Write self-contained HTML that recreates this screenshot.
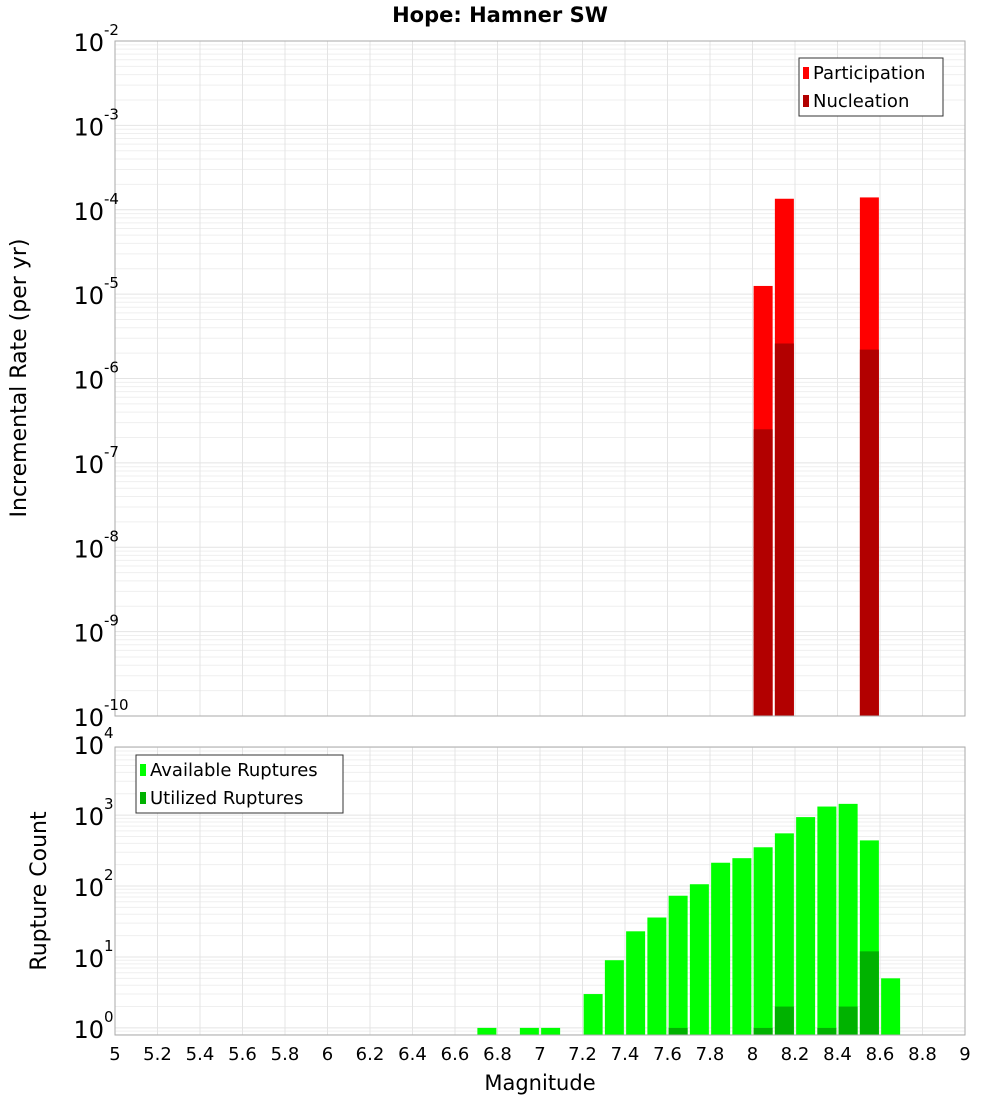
<!DOCTYPE html>
<html><head><meta charset="utf-8"><style>
body{margin:0;background:#fff;font-family:"DejaVu Sans","Liberation Sans",sans-serif}
svg text{font-family:"DejaVu Sans","Liberation Sans",sans-serif}
</style></head><body>
<svg id="c" width="1000" height="1100" xmlns="http://www.w3.org/2000/svg">
<text x="500" y="22" text-anchor="middle" font-size="21" font-weight="bold">Hope: Hamner SW</text>
<text transform="translate(26,378) rotate(-90)" text-anchor="middle" font-size="22">Incremental Rate (per yr)</text>
<text transform="translate(46,891) rotate(-90)" text-anchor="middle" font-size="22">Rupture Count</text>
<text x="540" y="1090" text-anchor="middle" font-size="21">Magnitude</text>
<g id="g"></g>
</svg>
<script>
const topMags=[8.05,8.15,8.55];
const participation=[1.25e-5,1.35e-4,1.4e-4];
const nucleation=[2.5e-7,2.6e-6,2.2e-6];
const botMags=[6.75,6.95,7.05,7.25,7.35,7.45,7.55,7.65,7.75,7.85,7.95,8.05,8.15,8.25,8.35,8.45,8.55,8.65];
const available=[1,1,1,3,9,23,36,73,106,213,247,352,553,937,1320,1440,440,5];
const utilized=[0,0,0,0,0,0,0,1,0,0,0,1,2,0,1,2,12,0];
const xTicks=["5","5.2","5.4","5.6","5.8","6","6.2","6.4","6.6","6.8","7","7.2","7.4","7.6","7.8","8","8.2","8.4","8.6","8.8","9"];
const topExp=[-2,-3,-4,-5,-6,-7,-8,-9,-10];
const botExp=[0,1,2,3,4];

const NS="http://www.w3.org/2000/svg";
const g=document.getElementById('g');
function el(t,a,p){const e=document.createElementNS(NS,t);for(const k in a)e.setAttribute(k,a[k]);(p||g).appendChild(e);return e;}
const X0=115,X1=965;
const x=m=>X0+(m-5)/4*(X1-X0);
const T0=41,T1=716;
const yT=v=>T0+(-2-Math.log10(v))/8*(T1-T0);
const B0=747,B1=1035,Bmax=3.96,Bmin=-0.1;
const yB=v=>B0+(Bmax-Math.log10(v))/(Bmax-Bmin)*(B1-B0);

function grid(y0,y1,fy,lo,hi){
  for(let d=lo;d<=hi;d++)for(let k=1;k<10;k++){const v=k*Math.pow(10,d);const yy=fy(v);if(yy<y0-0.5||yy>y1+0.5)continue;
    const l=el('line',{x1:X0,x2:X1,y1:yy,y2:yy,stroke:k==1?'#e4e4e4':'#efefef','stroke-width':1});
    }
  xTicks.forEach(t=>{const xx=x(+t);const l=el('line',{x1:xx,x2:xx,y1:y0,y2:y1,stroke:'#e4e4e4'});
    });
}
grid(T0,T1,yT,-10,-3);
grid(B0,B1,yB,-1,3);

topMags.forEach((m,i)=>{
  const r=el('rect',{x:x(m)-9.5,y:yT(participation[i]),width:19,height:T1-yT(participation[i]),fill:'#ff0000'});
  
  const n=el('rect',{x:x(m)-9.5,y:yT(nucleation[i]),width:19,height:T1-yT(nucleation[i]),fill:'#b20000'});
  
});
botMags.forEach((m,i)=>{
  const r=el('rect',{x:x(m)-9.5,y:yB(available[i]),width:19,height:B1-yB(available[i]),fill:'#00ff00'});
  
  if(utilized[i]>0){const u=el('rect',{x:x(m)-9.5,y:yB(utilized[i]),width:19,height:B1-yB(utilized[i]),fill:'#00b200'});
  }
});

const f1=el('rect',{x:X0,y:T0,width:X1-X0,height:T1-T0,fill:'none',stroke:'#aaa'});

const f2=el('rect',{x:X0,y:B0,width:X1-X0,height:B1-B0,fill:'none',stroke:'#aaa'});


function ylab(yy,e,name){
  const t=el('text',{x:104,y:yy+10,'text-anchor':'end','font-size':24});
  
  t.textContent='10';
  const s=el('text',{x:104,y:yy-6,'font-size':15});
  
  s.textContent=String(e);
}
topExp.forEach(e=>ylab(yT(Math.pow(10,e)),e,'top-y-tick-label'));
botExp.forEach(e=>ylab(yB(Math.pow(10,e)),e,'bottom-y-tick-label'));
xTicks.forEach(t=>{const l=el('text',{x:x(+t),y:1060,'text-anchor':'middle','font-size':18});
  l.textContent=t;});

function legend(x0,y0,w,items,name){
  const b=el('rect',{x:x0,y:y0,width:w,height:58,fill:'#fff',stroke:'#333'});
  
  items.forEach((it,i)=>{
    const sw=el('rect',{x:x0+4,y:y0+9+i*28,width:6,height:12,fill:it[1]});
    
    const t=el('text',{x:x0+14,y:y0+21+i*28,'font-size':18});
    t.textContent=it[0];
  });
}
legend(799,58,144,[["Participation","#ff0000"],["Nucleation","#b20000"]],'top-legend');
legend(136,755,207,[["Available Ruptures","#00ff00"],["Utilized Ruptures","#00b200"]],'bottom-legend');
</script>
</body></html>
